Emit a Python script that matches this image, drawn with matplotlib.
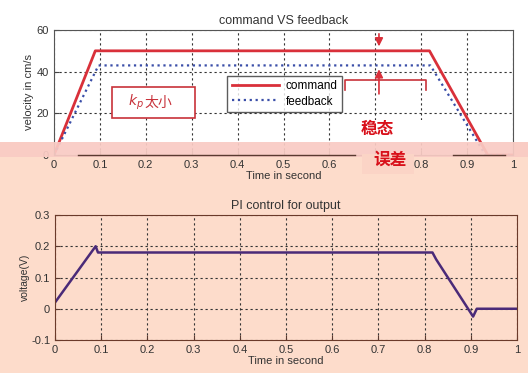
import matplotlib.pyplot as plt
from matplotlib.patches import Rectangle
from matplotlib.lines import Line2D

plt.rcParams['font.family'] = ['Liberation Sans', 'Noto Sans CJK SC', 'DejaVu Sans']

# command vs feedback (cm/s)
cmd_t = [0.0, 0.09, 0.818, 0.945, 1.0]
cmd_v = [0, 50, 50, 0, 0]
fb_t = [0.0, 0.097, 0.82, 0.94, 1.0]
fb_v = [0, 43, 43, 0, 0]

# PI control output (V)
pi_t = [0.0, 0.088, 0.093, 0.817, 0.825, 0.905, 0.913, 1.0]
pi_v = [0.02, 0.2, 0.18, 0.18, 0.158, -0.025, 0.0, 0.0]

xticks = [0, 0.1, 0.2, 0.3, 0.4, 0.5, 0.6, 0.7, 0.8, 0.9, 1]
xticklabels = ['0', '0.1', '0.2', '0.3', '0.4', '0.5', '0.6', '0.7', '0.8', '0.9', '1']
# in the top panel the 0.7 label is covered by the annotation
top_xticklabels = ['0', '0.1', '0.2', '0.3', '0.4', '0.5', '0.6', '', '0.8', '0.9', '1']

W, H = 528, 373
fig = plt.figure(figsize=(W / 100, H / 100), dpi=100, facecolor='#fddccb')


def fx(px):
    return px / W


def fy(py):
    return 1 - py / H


# white top part of the picture
fig.add_artist(Rectangle((0, fy(142)), 1, 142 / H, transform=fig.transFigure,
                         facecolor='white', edgecolor='none', zorder=-5))

grid_kw = dict(color='#333333', linestyle=(0, (2, 2.5)), linewidth=0.8)

# ---- top: command VS feedback
ax1 = fig.add_axes([fx(54), fy(155), fx(513 - 54), (155 - 30) / H])
ax1.set_facecolor('white')
ax1.plot(cmd_t, cmd_v, color='#d9303a', linewidth=2, label='command')
ax1.plot(fb_t, fb_v, color='#3a4ea8', linestyle=':', linewidth=1.6, label='feedback')
ax1.set_xlim(0, 1)
ax1.set_ylim(0, 60)
ax1.set_yticks([0, 20, 40, 60])
ax1.set_xticks(xticks)
ax1.set_xticklabels(top_xticklabels)
ax1.grid(True, **grid_kw)
ax1.tick_params(direction='in', labelsize=8, colors='#444444', labelcolor='#333333')
for s in ax1.spines.values():
    s.set_color('#555555')
ax1.set_title('command VS feedback', fontsize=9, color='#333333', pad=4)
ax1.set_ylabel('velocity in cm/s', fontsize=8, color='#333333', labelpad=2)
ax1.set_xlabel('Time in second', fontsize=8, color='#333333', labelpad=1)
ax1.legend(loc='upper left', bbox_to_anchor=(0.365, 0.68), fontsize=8.5,
           frameon=True, fancybox=False, edgecolor='#333333', handlelength=4,
           borderpad=0.35, labelspacing=0.3, handletextpad=0.6)

# annotation box "kp too small"
ax1.add_patch(Rectangle((0.127, 0.296), 0.181, 0.248, transform=ax1.transAxes,
                        facecolor='white', edgecolor='#c8323a', linewidth=1.2, zorder=4))
ax1.text(0.196, 0.42, '$k_p$', transform=ax1.transAxes, color='#c8323a',
         fontsize=10, ha='right', va='center', zorder=5)
ax1.text(0.198, 0.42, '太小', transform=ax1.transAxes, color='#c8323a',
         fontsize=10, ha='left', va='center', zorder=5)

# bracket of second annotation box
ax1.plot([0.635, 0.635, 0.81, 0.81], [0.52, 0.6, 0.6, 0.52], transform=ax1.transAxes,
         color='#c8323a', linewidth=1.2, zorder=4)
ax1.annotate('', xy=(0.708, 50.8), xytext=(0.708, 59.5),
             arrowprops=dict(arrowstyle='-|>', color='#d9303a', lw=1.2,
                             mutation_scale=12), zorder=5)
ax1.annotate('', xy=(0.708, 42.5), xytext=(0.708, 28),
             arrowprops=dict(arrowstyle='-|>', color='#d9303a', lw=1.2,
                             mutation_scale=12), zorder=5)

# pink strip crossing the lower part of the top panel
fig.add_artist(Rectangle((0, fy(157)), 1, 15 / H, transform=fig.transFigure,
                         facecolor='#f9cbc4', edgecolor='none', alpha=0.93, zorder=3))
fig.add_artist(Line2D([fx(78), fx(355)], [fy(155), fy(155)], color='#5a3a30',
                      linewidth=1, zorder=4))
fig.add_artist(Line2D([fx(453), fx(505)], [fy(155), fy(155)], color='#5a3a30',
                      linewidth=1, zorder=4))
fig.add_artist(Rectangle((fx(355), fy(142)), fx(85), 22 / H, transform=fig.transFigure,
                         facecolor='white', edgecolor='none', zorder=3))
fig.add_artist(Rectangle((fx(362), fy(174)), fx(52), 20 / H, transform=fig.transFigure,
                         facecolor='#fbd4c6', edgecolor='none', zorder=3))
fig.text(fx(377), fy(129), '稳态', color='#d8101a', fontsize=12, fontweight='bold',
         ha='center', va='center', zorder=6)
fig.text(fx(390), fy(160), '误差', color='#d8101a', fontsize=12, fontweight='bold',
         ha='center', va='center', zorder=6)

# ---- bottom: PI control for output
ax2 = fig.add_axes([fx(55), fy(340), fx(517 - 55), (340 - 215) / H])
ax2.set_facecolor('#fddccb')
ax2.plot(pi_t, pi_v, color='#4a2a78', linewidth=1.8)
ax2.set_xlim(0, 1)
ax2.set_ylim(-0.1, 0.3)
ax2.set_yticks([-0.1, 0, 0.1, 0.2, 0.3])
ax2.set_yticklabels(['-0.1', '0', '0.1', '0.2', '0.3'])
ax2.set_xticks(xticks)
ax2.set_xticklabels(xticklabels)
ax2.grid(True, **grid_kw)
ax2.tick_params(direction='in', labelsize=8, colors='#5a3a30', labelcolor='#333333')
for s in ax2.spines.values():
    s.set_color('#6b3a2a')
ax2.set_title('PI control for output', fontsize=9, color='#333333', pad=4)
ax2.set_ylabel('voltage(V)', fontsize=7.5, color='#333333', labelpad=1)
ax2.set_xlabel('Time in second', fontsize=8, color='#333333', labelpad=1)

fig.savefig('out.png', dpi=100, facecolor=fig.get_facecolor())
